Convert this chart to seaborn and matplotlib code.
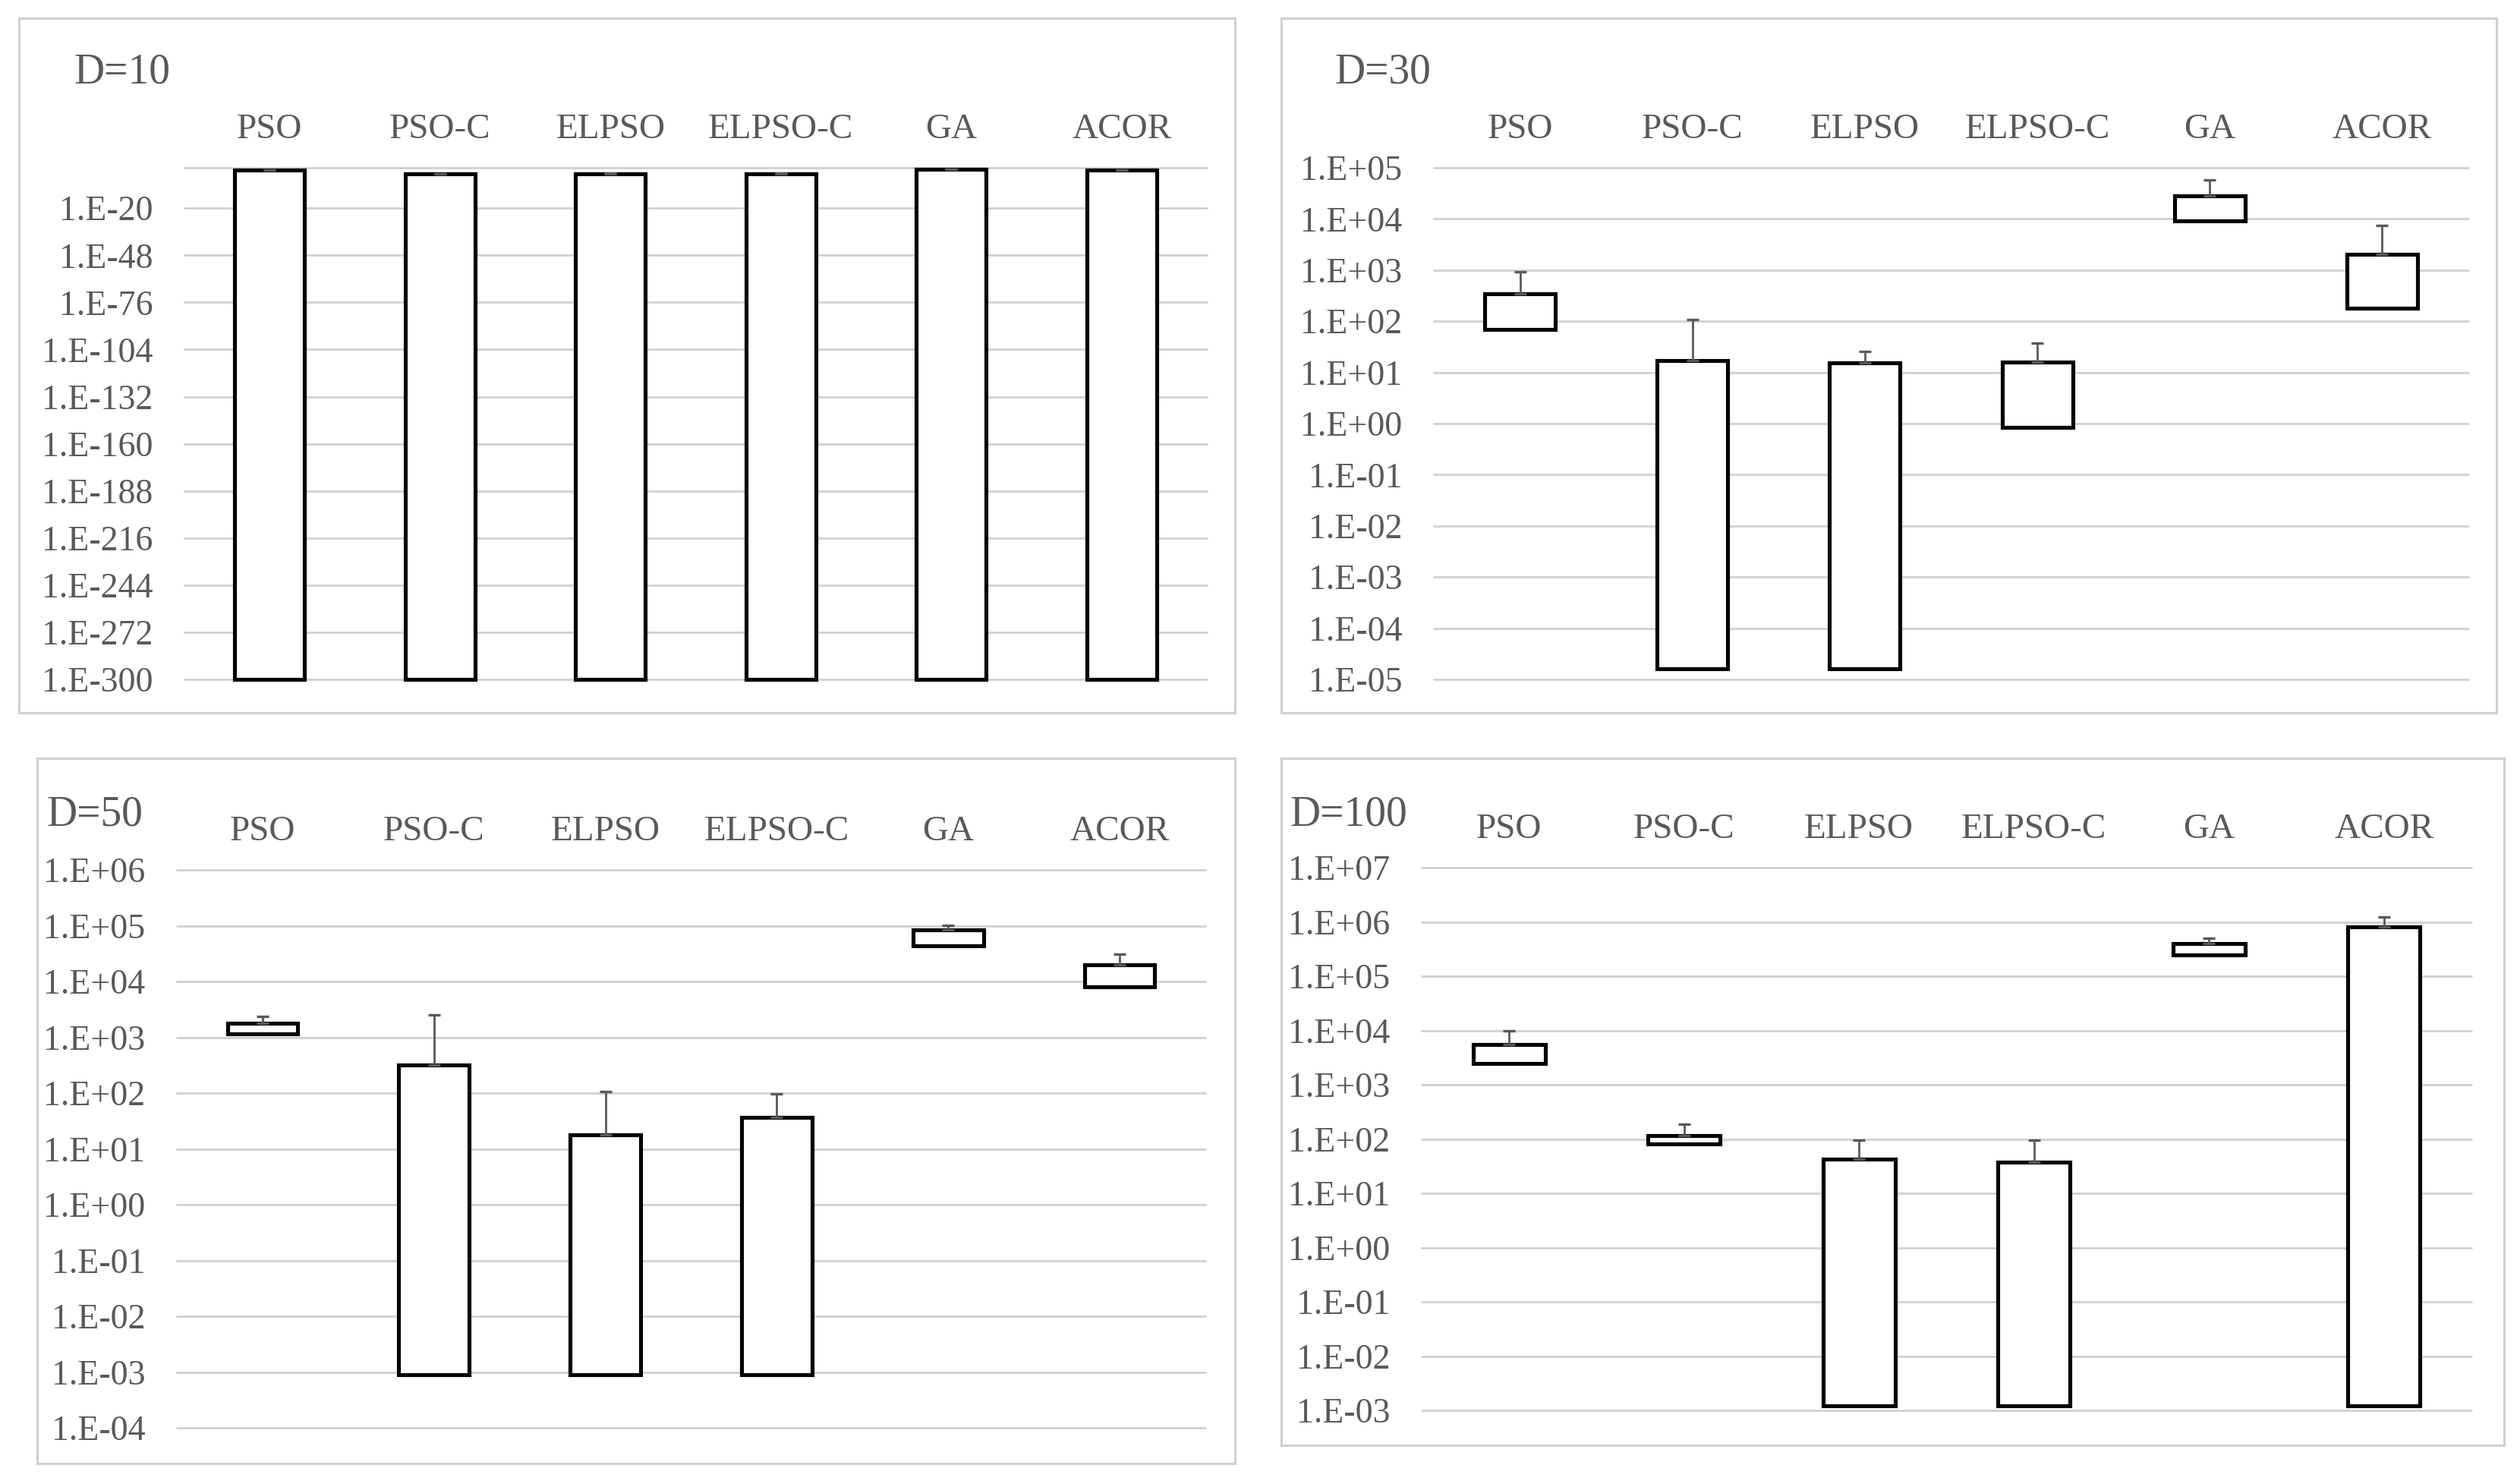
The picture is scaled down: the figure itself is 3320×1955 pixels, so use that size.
import numpy as np
import pandas as pd
import seaborn as sns
import matplotlib.pyplot as plt
from matplotlib.patches import Rectangle
from matplotlib.ticker import FixedLocator, FixedFormatter, NullLocator

# data: each bar spans low..high, error bar goes up from high by std
algorithms = ["PSO", "PSO-C", "ELPSO", "ELPSO-C", "GA", "ACOR"]

d10_low = [1e-300, 1e-300, 1e-300, 1e-300, 1e-300, 1e-300]
d10_high = [400, 2.5, 4, 4, 1300, 400]
d10_std = [200, 1.5, 2, 2, 500, 200]

d30_low = [70, 1.6e-5, 1.6e-5, 0.85, 9200, 182]
d30_high = [340, 16.8, 15.5, 15.8, 28000, 2030]
d30_std = [580, 90, 10, 21, 30000, 5400]

d50_low = [1140, 9e-4, 9e-4, 9e-4, 43000, 8000]
d50_high = [1810, 314, 18, 37, 85000, 20000]
d50_std = [520, 2200, 90, 61, 17000, 11000]

d100_low = [2440, 82, 1.2e-3, 1.2e-3, 2.45e5, 1.2e-3]
d100_high = [5600, 117, 42, 37, 3.97e5, 8.2e5]
d100_std = [4100, 68, 54, 59, 1.1e5, 4.3e5]

d10_ticks = [1e-300, 1e-272, 1e-244, 1e-216, 1e-188, 1e-160,
             1e-132, 1e-104, 1e-76, 1e-48, 1e-20, 1e4]
d10_labels = ["1.E-300", "1.E-272", "1.E-244", "1.E-216", "1.E-188", "1.E-160",
              "1.E-132", "1.E-104", "1.E-76", "1.E-48", "1.E-20", ""]
d30_ticks = [1e-5, 1e-4, 1e-3, 1e-2, 1e-1, 1e0, 1e1, 1e2, 1e3, 1e4, 1e5]
d30_labels = ["1.E-05", "1.E-04", "1.E-03", "1.E-02", "1.E-01", "1.E+00",
              "1.E+01", "1.E+02", "1.E+03", "1.E+04", "1.E+05"]
d50_ticks = [1e-4, 1e-3, 1e-2, 1e-1, 1e0, 1e1, 1e2, 1e3, 1e4, 1e5, 1e6]
d50_labels = ["1.E-04", "1.E-03", "1.E-02", "1.E-01", "1.E+00", "1.E+01",
              "1.E+02", "1.E+03", "1.E+04", "1.E+05", "1.E+06"]
d100_ticks = [1e-3, 1e-2, 1e-1, 1e0, 1e1, 1e2, 1e3, 1e4, 1e5, 1e6, 1e7]
d100_labels = ["1.E-03", "1.E-02", "1.E-01", "1.E+00", "1.E+01", "1.E+02",
               "1.E+03", "1.E+04", "1.E+05", "1.E+06", "1.E+07"]

sns.set_theme(style="white")
plt.rcParams["font.family"] = ["Liberation Serif", "DejaVu Serif"]

TEXT = "#595959"
GRID = "#D0D0D0"
W, H = 3320, 1955

def fig_rect(x0, y0, x1, y1):
    return [x0 / W, 1 - y1 / H, (x1 - x0) / W, (y1 - y0) / H]

# title, data, ticks, ylim, axes box (px), border box (px), title position (px)
panels = [
    ("D=10", d10_low, d10_high, d10_std, d10_ticks, d10_labels, (1e-300, 1e4),
     (243, 221, 1590, 895), (25, 24, 1627, 939), (97, 110)),
    ("D=30", d30_low, d30_high, d30_std, d30_ticks, d30_labels, (1e-5, 1e5),
     (1889, 221, 3252, 895), (1688, 24, 3289, 939), (1758, 109)),
    ("D=50", d50_low, d50_high, d50_std, d50_ticks, d50_labels, (1e-4, 1e6),
     (233, 1146, 1588, 1881), (49, 999, 1627, 1928), (61, 1088)),
    ("D=100", d100_low, d100_high, d100_std, d100_ticks, d100_labels, (1e-3, 1e7),
     (1873, 1143, 3256, 1858), (1688, 999, 3299, 1904), (1699, 1087)),
]

fig = plt.figure(figsize=(W / 100, H / 100), dpi=100)
fig.patch.set_facecolor("white")

for title, low, high, std, ticks, labels, ylim, box, border, tpos in panels:
    fig.patches.append(Rectangle((border[0] / W, 1 - border[3] / H),
                                 (border[2] - border[0]) / W, (border[3] - border[1]) / H,
                                 transform=fig.transFigure, fill=False,
                                 edgecolor=GRID, linewidth=2.2))
    fig.text(tpos[0] / W, 1 - tpos[1] / H, title, fontsize=40, color=TEXT,
             ha="left", va="baseline")

    ax = fig.add_axes(fig_rect(*box))
    ax.set_yscale("log")
    low = np.array(low)
    high = np.array(high)
    df = pd.DataFrame({"alg": algorithms, "span": high - low})
    sns.barplot(data=df, x="alg", y="span", order=algorithms, ax=ax,
                bottom=low, width=0.41, color="white", edgecolor="black",
                linewidth=3.7, errorbar=None, clip_on=False, zorder=2)
    ax.errorbar(np.arange(len(algorithms)), high,
                yerr=[np.zeros(len(algorithms)), np.array(std)],
                fmt="none", ecolor=TEXT, elinewidth=2.0, capsize=5.5,
                capthick=2.4, zorder=3)

    ax.set_ylim(*ylim)
    ax.set_xlim(-0.5, len(algorithms) - 0.5)
    ax.yaxis.set_major_locator(FixedLocator(ticks))
    ax.yaxis.set_major_formatter(FixedFormatter(labels))
    ax.yaxis.set_minor_locator(NullLocator())
    ax.xaxis.tick_top()
    ax.tick_params(axis="x", length=0, pad=21, labelsize=34, labelcolor=TEXT)
    ax.tick_params(axis="y", length=0, pad=30, labelsize=33, labelcolor=TEXT)
    ax.set_xlabel("")
    ax.set_ylabel("")
    ax.grid(axis="y", color=GRID, linewidth=2.0)
    ax.set_axisbelow(True)
    for line in ax.get_ygridlines():
        line.set_clip_on(False)
    for s in ax.spines.values():
        s.set_visible(False)
    ax.patch.set_alpha(0)

fig.savefig("out.png", dpi=100)
